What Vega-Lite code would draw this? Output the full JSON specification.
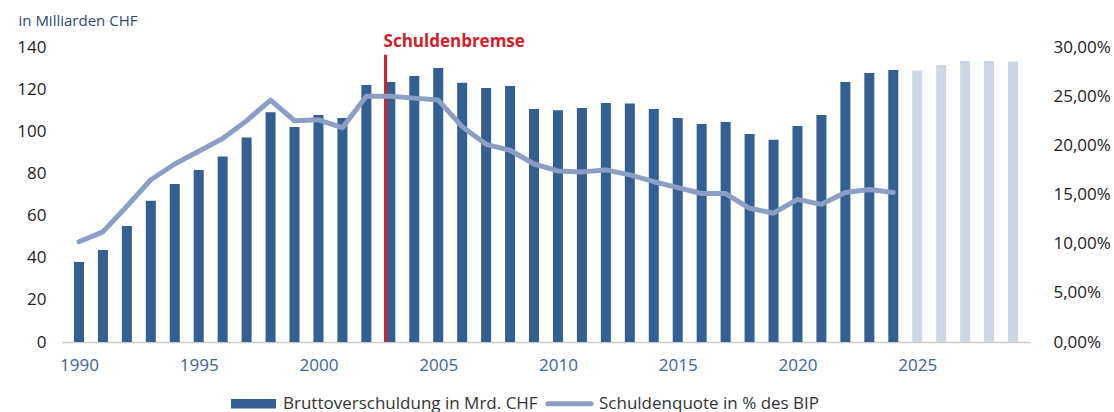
{
  "$schema": "https://vega.github.io/schema/vega-lite/v6.json",
  "width": 968,
  "height": 295,
  "autosize": "none",
  "padding": {"left": 62, "top": 47, "right": 84, "bottom": 70},
  "background": "white",
  "config": {
    "view": {"stroke": null},
    "font": "Open Sans",
    "axis": {"grid": false, "ticks": false, "labelFont": "Open Sans"}
  },
  "data": {
    "values": [
      {"year": 1990, "debt": 38.0, "quote": 10.2, "kind": "Bruttoverschuldung in Mrd. CHF"},
      {"year": 1991, "debt": 43.7, "quote": 11.2, "kind": "Bruttoverschuldung in Mrd. CHF"},
      {"year": 1992, "debt": 55.0, "quote": 13.8, "kind": "Bruttoverschuldung in Mrd. CHF"},
      {"year": 1993, "debt": 67.0, "quote": 16.5, "kind": "Bruttoverschuldung in Mrd. CHF"},
      {"year": 1994, "debt": 75.0, "quote": 18.1, "kind": "Bruttoverschuldung in Mrd. CHF"},
      {"year": 1995, "debt": 81.6, "quote": 19.4, "kind": "Bruttoverschuldung in Mrd. CHF"},
      {"year": 1996, "debt": 88.0, "quote": 20.7, "kind": "Bruttoverschuldung in Mrd. CHF"},
      {"year": 1997, "debt": 97.0, "quote": 22.5, "kind": "Bruttoverschuldung in Mrd. CHF"},
      {"year": 1998, "debt": 109.0, "quote": 24.6, "kind": "Bruttoverschuldung in Mrd. CHF"},
      {"year": 1999, "debt": 102.0, "quote": 22.5, "kind": "Bruttoverschuldung in Mrd. CHF"},
      {"year": 2000, "debt": 107.7, "quote": 22.6, "kind": "Bruttoverschuldung in Mrd. CHF"},
      {"year": 2001, "debt": 106.3, "quote": 21.8, "kind": "Bruttoverschuldung in Mrd. CHF"},
      {"year": 2002, "debt": 122.0, "quote": 25.0, "kind": "Bruttoverschuldung in Mrd. CHF"},
      {"year": 2003, "debt": 123.4, "quote": 25.0, "kind": "Bruttoverschuldung in Mrd. CHF"},
      {"year": 2004, "debt": 126.2, "quote": 24.8, "kind": "Bruttoverschuldung in Mrd. CHF"},
      {"year": 2005, "debt": 130.0, "quote": 24.6, "kind": "Bruttoverschuldung in Mrd. CHF"},
      {"year": 2006, "debt": 123.0, "quote": 21.9, "kind": "Bruttoverschuldung in Mrd. CHF"},
      {"year": 2007, "debt": 120.5, "quote": 20.1, "kind": "Bruttoverschuldung in Mrd. CHF"},
      {"year": 2008, "debt": 121.5, "quote": 19.5, "kind": "Bruttoverschuldung in Mrd. CHF"},
      {"year": 2009, "debt": 110.6, "quote": 18.1, "kind": "Bruttoverschuldung in Mrd. CHF"},
      {"year": 2010, "debt": 110.0, "quote": 17.4, "kind": "Bruttoverschuldung in Mrd. CHF"},
      {"year": 2011, "debt": 111.0, "quote": 17.3, "kind": "Bruttoverschuldung in Mrd. CHF"},
      {"year": 2012, "debt": 113.4, "quote": 17.5, "kind": "Bruttoverschuldung in Mrd. CHF"},
      {"year": 2013, "debt": 113.2, "quote": 17.0, "kind": "Bruttoverschuldung in Mrd. CHF"},
      {"year": 2014, "debt": 110.6, "quote": 16.3, "kind": "Bruttoverschuldung in Mrd. CHF"},
      {"year": 2015, "debt": 106.3, "quote": 15.7, "kind": "Bruttoverschuldung in Mrd. CHF"},
      {"year": 2016, "debt": 103.5, "quote": 15.1, "kind": "Bruttoverschuldung in Mrd. CHF"},
      {"year": 2017, "debt": 104.4, "quote": 15.1, "kind": "Bruttoverschuldung in Mrd. CHF"},
      {"year": 2018, "debt": 98.7, "quote": 13.6, "kind": "Bruttoverschuldung in Mrd. CHF"},
      {"year": 2019, "debt": 96.0, "quote": 13.1, "kind": "Bruttoverschuldung in Mrd. CHF"},
      {"year": 2020, "debt": 102.5, "quote": 14.5, "kind": "Bruttoverschuldung in Mrd. CHF"},
      {"year": 2021, "debt": 107.7, "quote": 14.0, "kind": "Bruttoverschuldung in Mrd. CHF"},
      {"year": 2022, "debt": 123.4, "quote": 15.2, "kind": "Bruttoverschuldung in Mrd. CHF"},
      {"year": 2023, "debt": 127.7, "quote": 15.5, "kind": "Bruttoverschuldung in Mrd. CHF"},
      {"year": 2024, "debt": 129.1, "quote": 15.2, "kind": "Bruttoverschuldung in Mrd. CHF"},
      {"year": 2025, "debt": 128.8, "quote": null, "kind": "Prognose"},
      {"year": 2026, "debt": 131.5, "quote": null, "kind": "Prognose"},
      {"year": 2027, "debt": 133.4, "quote": null, "kind": "Prognose"},
      {"year": 2028, "debt": 133.4, "quote": null, "kind": "Prognose"},
      {"year": 2029, "debt": 133.1, "quote": null, "kind": "Prognose"}
    ]
  },
  "encoding": {
    "x": {
      "field": "year",
      "type": "quantitative",
      "scale": {"domain": [1989.5, 2029.5], "nice": false, "zero": false},
      "axis": {
        "title": null,
        "values": [1990, 1995, 2000, 2005, 2010, 2015, 2020, 2025],
        "format": "d",
        "labelColor": "#3c64a0",
        "labelFontSize": 17,
        "labelPadding": 15,
        "domainColor": "#cccccc",
        "domainWidth": 1.5,
        "labelFlush": false
      }
    }
  },
  "layer": [
    {
      "layer": [
        {
          "mark": {"type": "bar", "width": 10},
          "encoding": {
            "y": {
              "field": "debt",
              "type": "quantitative",
              "scale": {"domain": [0, 140], "nice": false},
              "axis": {
                "values": [0, 20, 40, 60, 80, 100, 120, 140],
                "domain": false,
                "labelFontSize": 17,
                "labelColor": "#222222",
                "labelPadding": 16,
                "title": "in Milliarden CHF",
                "titleAngle": 0,
                "titleX": -44,
                "titleY": -27,
                "titleAlign": "left",
                "titleBaseline": "middle",
                "titleFontSize": 15,
                "titleFontWeight": "normal",
                "titleColor": "#2e4a7a",
                "titleFont": "Open Sans"
              }
            },
            "color": {
              "field": "kind",
              "type": "nominal",
              "scale": {
                "domain": ["Bruttoverschuldung in Mrd. CHF", "Prognose", "Schuldenquote in % des BIP"],
                "range": ["#335f92", "#cdd7e3", "#8c9dc6"]
              },
              "legend": {
                "title": null,
                "values": ["Bruttoverschuldung in Mrd. CHF", "Schuldenquote in % des BIP"],
                "orient": "none",
                "direction": "horizontal",
                "legendX": 169,
                "legendY": 334,
                "labelFontSize": 17,
                "labelColor": "#333333",
                "labelFont": "Open Sans",
                "labelLimit": 400,
                "symbolType": "M-1,-0.21H1V0.21H-1Z",
                "symbolSize": 2025,
                "columnPadding": 7,
                "labelOffset": 7,
                "encode": {
                  "symbols": {
                    "update": {
                      "fill": {"scale": "color", "field": "value"},
                      "stroke": {"value": "transparent"},
                      "strokeWidth": {"value": 0},
                      "fillOpacity": {"value": 1},
                      "opacity": {"value": 1},
                      "shape": {"signal": "datum.value === 'Bruttoverschuldung in Mrd. CHF' ? 'M-1,-0.21H1V0.21H-1Z' : 'M-0.96,-0.115H0.96A0.115,0.115 0 0 1 0.96,0.115H-0.96A0.115,0.115 0 0 1 -0.96,-0.115Z M0,-0.21L0,-0.21Z M0,0.21L0,0.21Z'"}
                    }
                  }
                }
              }
            }
          }
        },
        {
          "data": {"values": [{"year": 2002.8, "top": 136.3, "label": "Schuldenbremse"}]},
          "mark": {"type": "rule", "color": "#d0202a", "strokeWidth": 3},
          "encoding": {
            "x": {"field": "year", "type": "quantitative"},
            "y": {"field": "top", "type": "quantitative"},
            "y2": {"datum": 0}
          }
        },
        {
          "data": {"values": [{"year": 2002.8, "top": 140, "label": "Schuldenbremse"}]},
          "mark": {"type": "text", "color": "#d0202a", "fontWeight": "bold", "fontSize": 17, "align": "left", "baseline": "alphabetic", "dx": -2, "font": "Open Sans"},
          "encoding": {
            "x": {"field": "year", "type": "quantitative"},
            "y": {"field": "top", "type": "quantitative"},
            "text": {"field": "label"}
          }
        }
      ]
    },
    {
      "transform": [{"filter": "datum.quote != null"}],
      "mark": {"type": "line", "strokeWidth": 5, "strokeCap": "round", "strokeJoin": "round"},
      "encoding": {
        "y": {
          "field": "quote",
          "type": "quantitative",
          "scale": {"domain": [0, 30], "nice": false},
          "axis": {
            "orient": "right",
            "values": [0, 5, 10, 15, 20, 25, 30],
            "labelExpr": "replace(format(datum.value, '.2f'), '.', ',') + '%'",
            "domain": false,
            "title": null,
            "labelFontSize": 17,
            "labelColor": "#222222",
            "labelPadding": 23
          }
        },
        "color": {"datum": "Schuldenquote in % des BIP", "type": "nominal"}
      }
    }
  ],
  "resolve": {"scale": {"y": "independent"}}
}
